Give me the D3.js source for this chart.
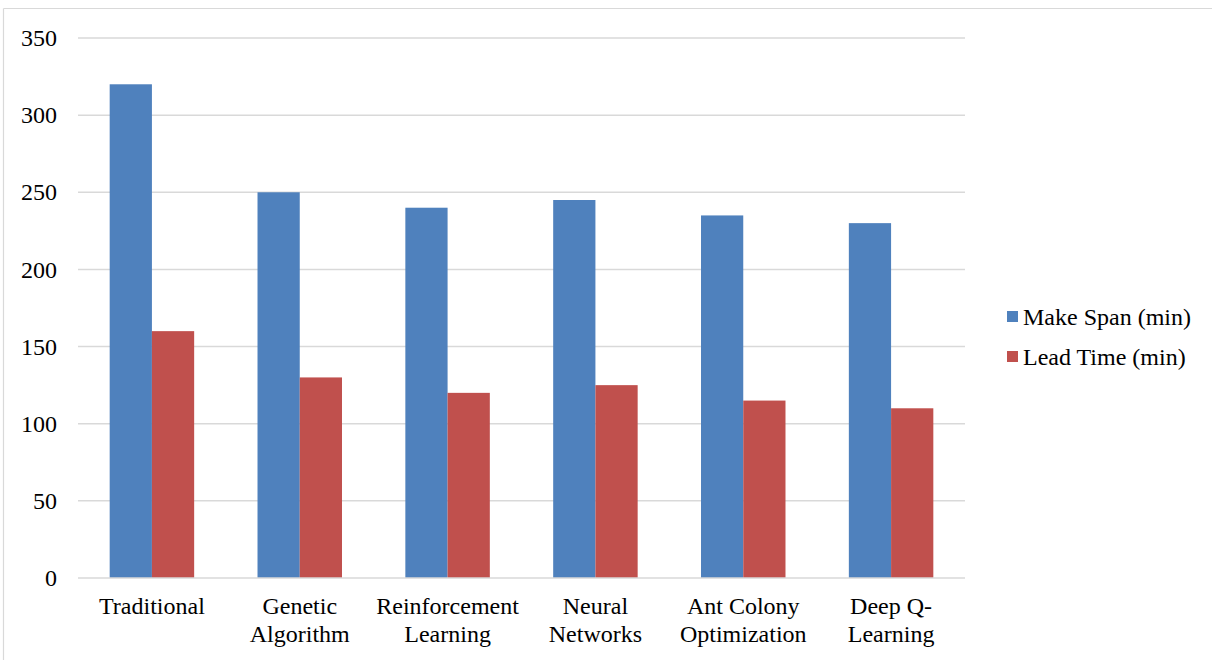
<!DOCTYPE html>
<html>
<head>
<meta charset="utf-8">
<script src="https://cdn.jsdelivr.net/npm/d3@7"></script>
<style>
  html, body { margin: 0; padding: 0; background: #fff; }
  svg { display: block; }
  text { font-family: "Liberation Serif", "Times New Roman", serif; fill: #000; }
</style>
</head>
<body>
<script>
// Scheduling methods compared
const categories = [
  ["Traditional"],
  ["Genetic", "Algorithm"],
  ["Reinforcement", "Learning"],
  ["Neural", "Networks"],
  ["Ant Colony", "Optimization"],
  ["Deep Q-", "Learning"]
];
const seriesNames = ["Make Span (min)", "Lead Time (min)"];
const makeSpan = [320, 250, 240, 245, 235, 230];
const leadTime = [160, 130, 120, 125, 115, 110];
const yTicks = [0, 50, 100, 150, 200, 250, 300, 350];
const colors = ["#4F81BD", "#C0504D"];

const W = 1212, H = 660;
const plot = { left: 78, right: 965, top: 38, bottom: 578 };
const FS = 24;

const svg = d3.select("body").append("svg").attr("width", W).attr("height", H);

// outer frame (top and left edges)
svg.append("line").attr("x1", 3.5).attr("x2", W).attr("y1", 8.5).attr("y2", 8.5)
  .attr("stroke", "#d9d9d9").attr("stroke-width", 1.2);
svg.append("line").attr("x1", 3.5).attr("x2", 3.5).attr("y1", 8.5).attr("y2", H)
  .attr("stroke", "#d9d9d9").attr("stroke-width", 1.2);

const x0 = d3.scaleBand().domain(d3.range(categories.length))
  .range([plot.left, plot.right]).paddingInner(0).paddingOuter(0);
const bw = x0.bandwidth() / 3.5;  // bar width with 150% gap
const x1 = d3.scaleBand().domain([0, 1])
  .range([x0.bandwidth() / 2 - bw, x0.bandwidth() / 2 + bw]).padding(0);
const y = d3.scaleLinear().domain([0, 350]).range([plot.bottom, plot.top]);

// gridlines
svg.append("g").selectAll("line").data(yTicks.filter(d => d > 0)).join("line")
  .attr("x1", plot.left).attr("x2", plot.right)
  .attr("y1", d => y(d)).attr("y2", d => y(d))
  .attr("stroke", "#d9d9d9").attr("stroke-width", 1.5);

// y axis labels
const yAxis = d3.axisLeft(y).tickValues(yTicks).tickSize(0).tickPadding(0);
const gy = svg.append("g").attr("transform", `translate(${plot.left - 21},0)`).call(yAxis);
gy.select(".domain").remove();
gy.selectAll("text").attr("font-size", FS).attr("font-family", "Liberation Serif, Times New Roman, serif")
  .attr("fill", "#000").attr("dy", "0.32em");

// bars
const series = [makeSpan, leadTime];
series.forEach((vals, s) => {
  svg.append("g").selectAll("rect").data(vals).join("rect")
    .attr("x", (d, i) => x0(i) + x1(s))
    .attr("width", x1.bandwidth())
    .attr("y", d => y(d))
    .attr("height", d => y(0) - y(d))
    .attr("fill", colors[s]);
});

// category axis line
svg.append("line").attr("x1", plot.left).attr("x2", plot.right)
  .attr("y1", plot.bottom).attr("y2", plot.bottom)
  .attr("stroke", "#d9d9d9").attr("stroke-width", 1.5);

// category labels
const xl = svg.append("g");
categories.forEach((lines, i) => {
  const cx = x0(i) + x0.bandwidth() / 2;
  const t = xl.append("text").attr("text-anchor", "middle").attr("font-size", FS).attr("x", cx);
  lines.forEach((ln, k) => {
    t.append("tspan").attr("x", cx).attr("y", 614 + k * 28).text(ln);
  });
});

// legend
const lg = svg.append("g");
seriesNames.forEach((name, s) => {
  const cy = 317 + s * 40;
  lg.append("rect").attr("x", 1007).attr("y", cy - 6).attr("width", 11).attr("height", 11).attr("fill", colors[s]);
  lg.append("text").attr("x", 1023).attr("y", cy + 8).attr("font-size", FS).text(name);
});
</script>
</body>
</html>
